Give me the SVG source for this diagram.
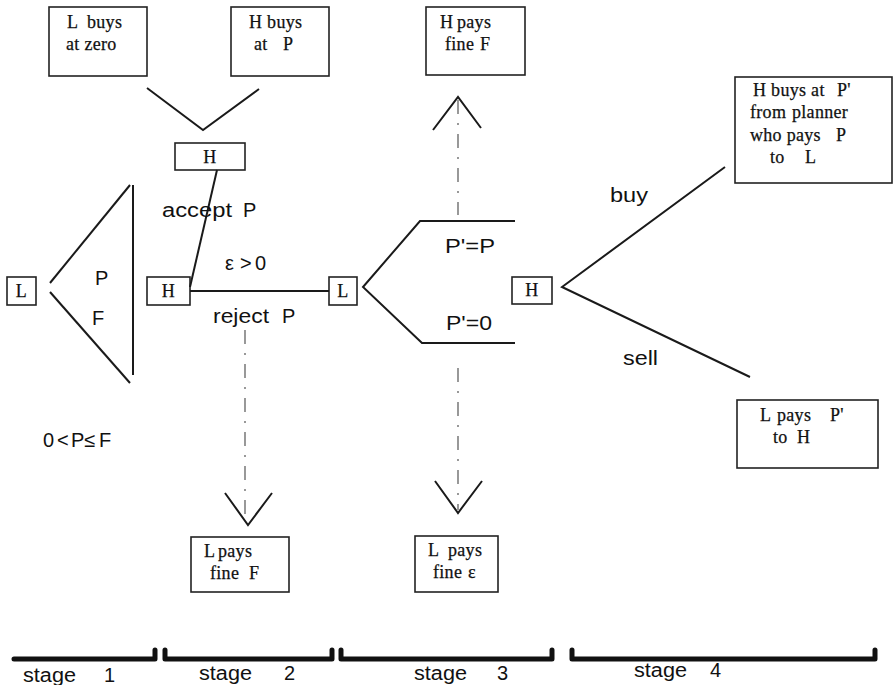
<svg xmlns="http://www.w3.org/2000/svg" width="894" height="685" viewBox="0 0 894 685">
<style>
.box{fill:#fff;stroke:#222;stroke-width:1.6}
.bt{font-family:"Liberation Serif","Times New Roman",serif;font-size:18px;letter-spacing:0.3px;fill:#111;stroke:#111;stroke-width:0.25}
.lb{font-family:"Liberation Sans",Arial,sans-serif;font-size:20px;fill:#111}
.ln{fill:none;stroke:#1a1a1a;stroke-width:2}
.dd{fill:none;stroke:#555;stroke-width:1.2;stroke-dasharray:14 9 2 9}
.br{fill:none;stroke:#111;stroke-width:5;stroke-linecap:round;stroke-linejoin:round}
</style>
<rect width="894" height="685" fill="#fff"/>
<g id="box-L-buys"><rect class="box" x="49" y="7" width="98" height="69"/><text class="bt" y="28"><tspan x="67">L</tspan><tspan x="87">buys</tspan></text><text class="bt" x="66" y="50">at zero</text></g>
<g id="box-H-buys"><rect class="box" x="231" y="7" width="98" height="69"/><text class="bt" x="249" y="28">H buys</text><text class="bt" y="50"><tspan x="254">at</tspan><tspan x="283">P</tspan></text></g>
<g id="box-H-pays"><rect class="box" x="426" y="7" width="99" height="68"/><text class="bt" y="28"><tspan x="440">H</tspan><tspan x="457">pays</tspan></text><text class="bt" y="50"><tspan x="445">fine</tspan><tspan x="480">F</tspan></text></g>
<g id="box-H-buys-P2"><rect class="box" x="735" y="77" width="157" height="106"/><text class="bt" y="96"><tspan x="753">H buys at</tspan><tspan x="837">P'</tspan></text><text class="bt" y="118"><tspan x="750">from</tspan><tspan x="792">planner</tspan></text><text class="bt" y="141"><tspan x="750">who pays</tspan><tspan x="836">P</tspan></text><text class="bt" y="163"><tspan x="770">to</tspan><tspan x="805">L</tspan></text></g>
<g id="box-L-pays-P2"><rect class="box" x="737" y="400" width="141" height="68"/><text class="bt" y="421"><tspan x="760">L</tspan><tspan x="777">pays</tspan><tspan x="830">P'</tspan></text><text class="bt" y="443"><tspan x="773">to</tspan><tspan x="797">H</tspan></text></g>
<g id="box-L-fine-F"><rect class="box" x="191" y="537" width="98" height="55"/><text class="bt" y="557"><tspan x="204">L</tspan><tspan x="218">pays</tspan></text><text class="bt" y="579"><tspan x="210">fine</tspan><tspan x="249">F</tspan></text></g>
<g id="box-L-fine-e"><rect class="box" x="415" y="536" width="83" height="56"/><text class="bt" y="556"><tspan x="428">L</tspan><tspan x="448">pays</tspan></text><text class="bt" y="578"><tspan x="433">fine</tspan><tspan x="468">ε</tspan></text></g>
<g id="node-L1"><rect class="box" x="7" y="277" width="29" height="28"/><text class="bt" x="21.5" y="297" text-anchor="middle">L</text></g>
<g id="node-H-top"><rect class="box" x="175" y="143" width="70" height="27"/><text class="bt" x="210" y="163" text-anchor="middle">H</text></g>
<g id="node-H2"><rect class="box" x="147" y="277" width="43" height="28"/><text class="bt" x="168.5" y="297" text-anchor="middle">H</text></g>
<g id="node-L3"><rect class="box" x="329" y="277" width="28" height="28"/><text class="bt" x="343" y="297" text-anchor="middle">L</text></g>
<g id="node-H4"><rect class="box" x="512" y="277" width="40" height="27"/><text class="bt" x="532" y="296" text-anchor="middle">H</text></g>
<g id="connectors">
<polyline class="ln" points="147,88 203,130 259,89"/>
<polyline class="ln" points="130,185 50,283"/>
<polyline class="ln" points="50,292 130,383"/>
<line class="ln" x1="133" y1="185" x2="133" y2="375"/>
<line class="ln" x1="217" y1="170" x2="190" y2="287"/>
<line class="ln" x1="190" y1="291" x2="329" y2="291"/>
<polyline class="ln" points="515,221 420,221 363,287 422,343 515,343"/>
<polyline class="ln" points="725,167 562,287 750,377"/>
<line class="dd" x1="245" y1="330" x2="245" y2="522"/>
<polyline class="ln" points="225,493 248,525 272,493"/>
<line class="dd" x1="458" y1="368" x2="458" y2="510"/>
<polyline class="ln" points="435,481 458,513 482,481"/>
<line class="dd" x1="458" y1="100" x2="458" y2="215"/>
<polyline class="ln" points="433,130 458,97 481,128"/>
</g>
<g id="labels">
<text class="lb" x="95" y="285">P</text>
<text class="lb" x="92" y="325">F</text>
<text class="lb" y="217"><tspan x="162" textLength="70" lengthAdjust="spacingAndGlyphs">accept</tspan><tspan x="243">P</tspan></text>
<text class="lb" y="270"><tspan x="225">ε</tspan><tspan x="240">&gt;</tspan><tspan x="255">0</tspan></text>
<text class="lb" y="323"><tspan x="213" textLength="56" lengthAdjust="spacingAndGlyphs">reject</tspan><tspan x="282">P</tspan></text>
<text class="lb" y="447" font-size="19"><tspan x="43">0</tspan><tspan x="57">&lt;</tspan><tspan x="71">P</tspan><tspan x="84">≤</tspan><tspan x="99">F</tspan></text>
<text class="lb" x="445" y="253" textLength="50" lengthAdjust="spacingAndGlyphs">P'=P</text>
<text class="lb" x="446" y="330" textLength="46" lengthAdjust="spacingAndGlyphs">P'=0</text>
<text class="lb" x="610" y="202" textLength="38" lengthAdjust="spacingAndGlyphs">buy</text>
<text class="lb" x="623" y="365" textLength="35" lengthAdjust="spacingAndGlyphs">sell</text>
</g>
<g id="stages">
<polyline class="br" points="14,659 155,659 155,650"/>
<polyline class="br" points="165,650 165,659 332,659 332,650"/>
<polyline class="br" points="341,650 341,659 552,659 552,650"/>
<polyline class="br" points="572,650 572,659 875,659 875,650"/>
<text class="lb" x="23" y="682" textLength="53" lengthAdjust="spacingAndGlyphs">stage</text><text class="lb" x="104" y="682">1</text>
<text class="lb" x="199" y="680" textLength="53" lengthAdjust="spacingAndGlyphs">stage</text><text class="lb" x="284" y="680">2</text>
<text class="lb" x="414" y="680" textLength="53" lengthAdjust="spacingAndGlyphs">stage</text><text class="lb" x="497" y="680">3</text>
<text class="lb" x="634" y="677" textLength="53" lengthAdjust="spacingAndGlyphs">stage</text><text class="lb" x="710" y="677">4</text>
</g>
</svg>
